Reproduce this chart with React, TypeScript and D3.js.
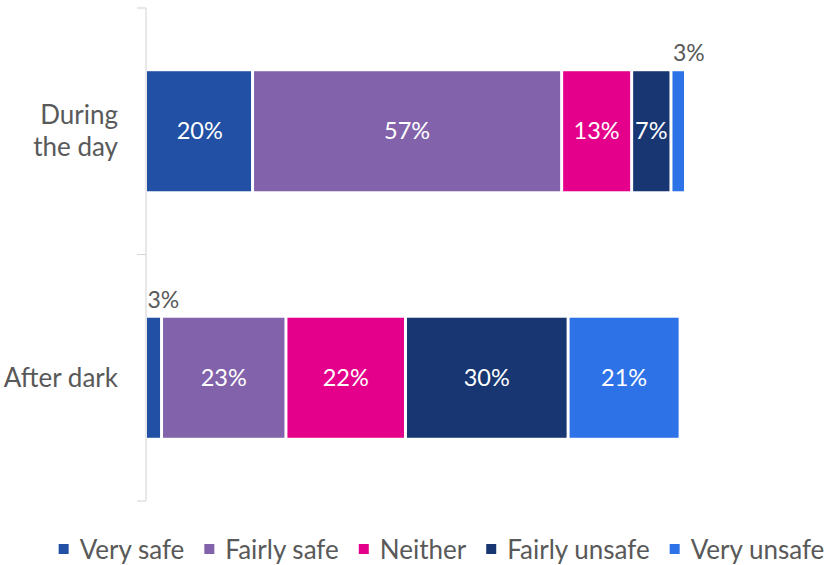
import React, { useEffect, useRef } from "react";
import * as d3 from "d3";

const categories = ["During the day", "After dark"];
const categoryLines = [["During", "the day"], ["After dark"]];
const seriesNames = ["Very safe", "Fairly safe", "Neither", "Fairly unsafe", "Very unsafe"];
const seriesColors = ["#2150A4", "#8262AA", "#E4008B", "#173672", "#2E72E8"];
const duringDay = [19.6, 57.4, 13.0, 7.3, 2.7];
const afterDark = [2.7, 23.1, 22.2, 30.2, 20.8];
const values = [duringDay, afterDark];

const W = 832;
const H = 565;
const FONT = "Lato, 'Open Sans', sans-serif";
const GRAY = "#595959";

export default function App() {
  const ref = useRef<SVGSVGElement | null>(null);

  useEffect(() => {
    const svg = d3.select(ref.current);
    svg.selectAll("*").remove();

    const x = d3.scaleLinear().domain([0, 100]).range([147, 685.5]);
    const y = d3.scaleBand<string>().domain(categories).range([8, 501]).padding(0);
    const barH = y.bandwidth() * 0.487;

    // axis
    const axisX = 146;
    svg.append("line").attr("x1", axisX).attr("x2", axisX).attr("y1", 8).attr("y2", 501)
      .attr("stroke", "#d9d9d9").attr("stroke-width", 1.2);
    const tickYs = [8, ...categories.map((c) => (y(c) as number) + y.bandwidth())];
    tickYs.forEach((ty) => {
      svg.append("line").attr("x1", axisX - 9).attr("x2", axisX).attr("y1", ty).attr("y2", ty)
        .attr("stroke", "#d9d9d9").attr("stroke-width", 1.2);
    });

    // category labels
    categories.forEach((c, ci) => {
      const cy = (y(c) as number) + y.bandwidth() / 2;
      const lines = categoryLines[ci];
      const lh = 32;
      const t = svg.append("text").attr("text-anchor", "end").attr("font-family", FONT)
        .attr("font-size", 26).attr("fill", GRAY);
      lines.forEach((ln, li) => {
        t.append("tspan").attr("x", 118)
          .attr("y", cy + 9 + (li - (lines.length - 1) / 2) * lh)
          .text(ln);
      });
    });

    // bars
    categories.forEach((c, ci) => {
      const top = (y(c) as number) + (y.bandwidth() - barH) / 2;
      let cum = 0;
      values[ci].forEach((v, si) => {
        const c0 = cum;
        const c1 = cum + v;
        cum = c1;
        const x0 = x(c0) + (si > 0 ? 1.5 : 0);
        const x1 = x(c1) - 1.5;
        svg.append("rect").attr("x", x0).attr("y", top).attr("width", Math.max(0, x1 - x0))
          .attr("height", barH).attr("fill", seriesColors[si]);
        const label = `${Math.round(v)}%`;
        if (v < 5) {
          svg.append("text").attr("x", x0 + 0.5).attr("y", top - 10).attr("text-anchor", "start")
            .attr("font-family", FONT).attr("font-size", 23).attr("fill", GRAY).text(label);
        } else {
          svg.append("text").attr("x", (x(c0) + x(c1)) / 2).attr("y", top + barH / 2 + 8)
            .attr("text-anchor", "middle").attr("font-family", FONT).attr("font-size", 23.5)
            .attr("fill", "#ffffff").text(label);
        }
      });
    });

    // legend
    const lg = svg.append("g");
    const items: { g: any; w: number }[] = [];
    seriesNames.forEach((name, i) => {
      const g = lg.append("g");
      g.append("rect").attr("x", 0).attr("y", -15).attr("width", 10).attr("height", 10)
        .attr("fill", seriesColors[i]);
      const t = g.append("text").attr("x", 21).attr("y", 0).attr("font-family", FONT)
        .attr("font-size", 26).attr("fill", GRAY).text(name);
      const w = 21 + (t.node() as SVGTextElement).getComputedTextLength();
      items.push({ g, w });
    });
    const gap = 20;
    const total = d3.sum(items, (d) => d.w) + gap * (items.length - 1);
    let lx = 441.5 - total / 2;
    items.forEach((it) => {
      it.g.attr("transform", `translate(${lx},559)`);
      lx += it.w + gap;
    });
  }, []);

  return (
    <svg ref={ref} width={W} height={H} style={{ position: "absolute", left: 0, top: 0 }} />
  );
}
